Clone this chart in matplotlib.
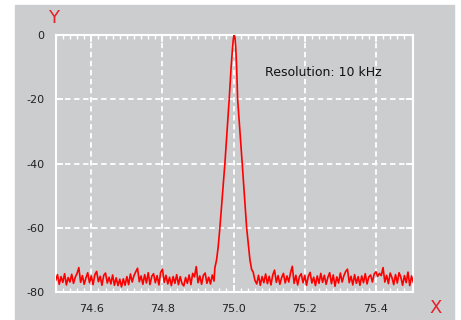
import numpy as np
import matplotlib
matplotlib.use("Agg")
import matplotlib.pyplot as plt
from matplotlib.patches import Rectangle
from matplotlib.ticker import MultipleLocator

plt.rcParams["axes.unicode_minus"] = False
plt.rcParams["font.family"] = "DejaVu Sans"

# noise floor left of the carrier, sampled every 0.005 from 74.500
noise_left_start, noise_left_step = 74.500, 0.005
noise_left = [
    -76.4, -74.6, -77.6, -75.2, -77.0, -74.3, -77.8, -75.5, -76.9, -74.5,
    -77.3, -75.4, -74.2, -72.4, -77.0, -74.9, -77.6, -75.6, -74.0, -77.1,
    -75.0, -77.7, -74.6, -73.6, -76.8, -75.1, -77.9, -74.8, -74.1, -77.2,
    -75.4, -77.5, -74.7, -77.9, -75.6, -78.0, -76.0, -78.4, -75.9, -77.9,
    -75.2, -77.7, -74.4, -76.9, -74.9, -73.7, -72.6, -76.8, -75.0, -77.6,
    -74.6, -77.2, -74.0, -77.7, -75.1, -74.3, -77.1, -74.9, -77.8, -73.9,
    -72.9, -77.0, -74.8, -77.5, -75.4, -78.0, -75.2, -77.3, -74.6, -77.7,
    -75.2, -77.4, -78.1, -75.5, -77.3, -74.7, -77.7, -74.2, -75.3, -72.1,
    -77.1, -75.0, -77.6, -74.8, -74.1, -77.3, -75.4, -77.5, -74.7, -76.6,
]

# carrier peak (MHz, dB)
peak_x = [74.9473, 74.9521, 74.9566, 74.9614, 74.9685, 74.9755, 74.9815,
          74.9876, 74.9930, 74.9970, 74.9995, 75.0017, 75.0040, 75.0060,
          75.0085, 75.0113, 75.0178, 75.0242, 75.0304, 75.0366, 75.0420,
          75.0459, 75.0507]
peak_y = [-72.5, -70.0, -66.0, -60.0, -50.0, -40.0, -30.0,
          -20.0, -10.0, -4.0, -1.0, 0.0, -1.0, -4.0,
          -10.0, -20.0, -30.0, -40.0, -50.0, -60.0, -66.0,
          -70.0, -73.0]

# noise floor right of the carrier, sampled every 0.005 from 75.055
noise_right_start, noise_right_step = 75.055, 0.005
noise_right = [
    -73.8, -76.4, -77.5, -74.8, -77.9, -75.2, -77.1, -74.4, -77.4, -75.1,
    -77.8, -74.7, -73.2, -77.0, -74.9, -77.6, -75.5, -74.2, -77.2, -75.0,
    -76.9, -74.0, -72.0, -77.3, -74.8, -77.8, -75.2, -74.3, -77.1, -74.9,
    -77.9, -75.1, -73.9, -77.2, -75.4, -78.0, -75.0, -77.3, -74.2, -77.0,
    -74.8, -77.6, -75.4, -74.0, -77.4, -74.7, -78.2, -75.3, -77.2, -74.1,
    -76.9, -74.9, -73.6, -72.9, -77.1, -75.1, -77.8, -74.6, -77.3, -75.2,
    -77.9, -75.0, -77.1, -74.3, -77.5, -75.3, -74.7, -76.9, -74.4, -73.7,
    -75.1, -74.2, -74.9, -72.4, -76.9, -74.8, -77.4, -74.1, -75.5, -77.7,
    -74.6, -77.2, -74.0, -75.4, -77.9, -74.9, -77.1, -73.8, -78.0, -75.0,
    -77.0,
]

x_ticks = [74.6, 74.8, 75.0, 75.2, 75.4]
y_ticks = [0, -20, -40, -60, -80]

BG = "#cccdcf"

xl = noise_left_start + noise_left_step * np.arange(len(noise_left))
xr = noise_right_start + noise_right_step * np.arange(len(noise_right))
freq = np.concatenate([xl, peak_x, xr])
level = np.concatenate([noise_left, peak_y, noise_right])

fig = plt.figure(figsize=(4.61, 3.20), dpi=100)
fig.patch.set_facecolor("white")
fig.patches.append(Rectangle((15 / 461, 0), 439 / 461, 315 / 320,
                             transform=fig.transFigure, color=BG, zorder=-5))

ax = fig.add_axes([55.7 / 461, 28 / 320, 357.6 / 461, 257 / 320])
ax.set_facecolor(BG)
ax.plot(freq, level, color="#ff0000", lw=1.2, zorder=3)

ax.set_xlim(74.5, 75.505)
ax.set_ylim(-80, 0)
ax.set_xticks(x_ticks)
ax.set_xticklabels([f"{v:.1f}" for v in x_ticks])
ax.set_yticks(y_ticks)
ax.set_yticklabels([str(v) for v in y_ticks])
ax.xaxis.set_minor_locator(MultipleLocator(0.02))

for s in ax.spines.values():
    s.set_color("white")
    s.set_linewidth(1.5)

ax.grid(True, which="major", color="white", linestyle=(0, (3, 2)), lw=1.3)
ax.tick_params(which="both", direction="in", colors="white",
               top=True, right=True, labelcolor="#222222", labelsize=8)
ax.tick_params(which="major", length=5, width=1.3)
ax.tick_params(which="minor", length=3, width=1.0)
ax.tick_params(axis="x", pad=9)
ax.tick_params(axis="y", pad=8)

ax.text(0.585, 0.855, "Resolution: 10 kHz", transform=ax.transAxes,
        fontsize=9, color="#111111", va="center", ha="left")

fig.text(54 / 461, 1 - 18 / 320, "Y", color="#e8202a", fontsize=13,
         ha="center", va="center")
fig.text(436 / 461, 1 - 308 / 320, "X", color="#e8202a", fontsize=13,
         ha="center", va="center")

fig.savefig("out.png", dpi=100, facecolor="white")
